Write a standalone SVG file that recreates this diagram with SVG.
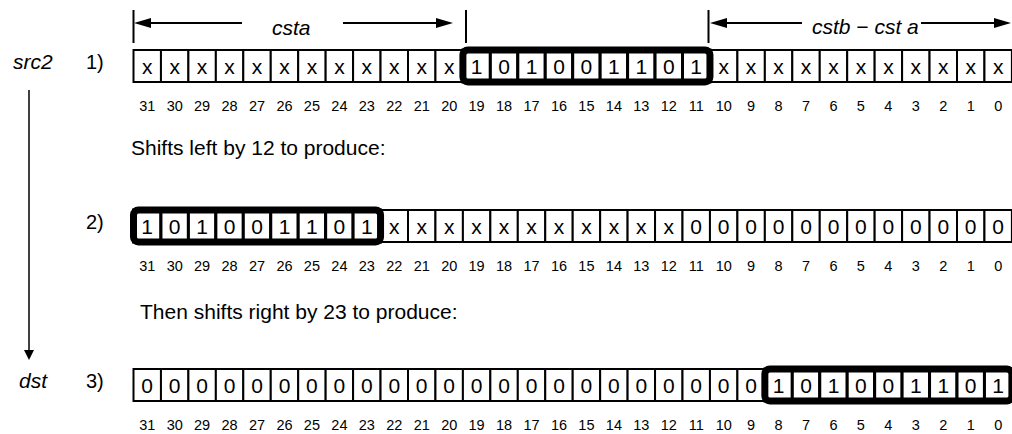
<svg xmlns="http://www.w3.org/2000/svg" width="1012" height="434" viewBox="0 0 1012 434">
<style>
text{font-family:"Liberation Sans",Arial,sans-serif;fill:#000}
.it{font-style:italic;font-size:21px}
.lb{font-size:20px}
.s{font-size:21px}
.v{font-size:21px;text-anchor:middle}
.n{font-size:14.5px;text-anchor:middle}
.c{fill:#fff;stroke:#000;stroke-width:2}
.k{fill:#fff;stroke:#000;stroke-width:3}
.o{fill:none;stroke:#000;stroke-width:7}
.ln{stroke:#000;stroke-width:2;fill:none}
.ah{fill:#000}
</style>
<g id="connectors">
<line class="ln" x1="133.5" y1="10" x2="133.5" y2="43"/>
<line class="ln" x1="466" y1="10" x2="466" y2="43"/>
<line class="ln" x1="708.5" y1="10" x2="708.5" y2="43"/>
<line class="ln" x1="140" y1="23" x2="242" y2="23"/>
<polygon class="ah" points="134,23 151,18 151,28"/>
<line class="ln" x1="343" y1="23" x2="446" y2="23"/>
<polygon class="ah" points="453,23 436,18 436,28"/>
<line class="ln" x1="716" y1="23" x2="802" y2="23"/>
<polygon class="ah" points="710,23 727,18 727,28"/>
<line class="ln" x1="921" y1="23" x2="1004" y2="23"/>
<polygon class="ah" points="1011,23 994,18 994,28"/>
<line class="ln" x1="29" y1="90" x2="29" y2="352" style="stroke-width:1.5"/>
<polygon class="ah" points="29,360 24,350 34,350"/>
</g>
<g id="labels">
<text class="it" x="272" y="35">csta</text>
<text class="it" x="812" y="34">cstb − cst a</text>
<text class="it" x="13" y="69">src2</text>
<text class="it" x="19" y="388">dst</text>
<text class="lb" x="86" y="69">1)</text>
<text class="lb" x="86" y="229">2)</text>
<text class="lb" x="86" y="388">3)</text>
<text class="s" x="131" y="155">Shifts left by 12 to produce:</text>
<text class="s" x="140" y="319">Then shifts right by 23 to produce:</text>
</g>
<g id="row1" transform="translate(0,50)">
<rect class="c" x="133.5" y="0" width="27.45" height="32"/><rect class="c" x="160.95" y="0" width="27.45" height="32"/><rect class="c" x="188.4" y="0" width="27.45" height="32"/><rect class="c" x="215.85" y="0" width="27.45" height="32"/><rect class="c" x="243.3" y="0" width="27.45" height="32"/><rect class="c" x="270.75" y="0" width="27.45" height="32"/><rect class="c" x="298.2" y="0" width="27.45" height="32"/><rect class="c" x="325.65" y="0" width="27.45" height="32"/><rect class="c" x="353.1" y="0" width="27.45" height="32"/><rect class="c" x="380.55" y="0" width="27.45" height="32"/><rect class="c" x="408" y="0" width="27.45" height="32"/><rect class="c" x="435.45" y="0" width="27.45" height="32"/>
<rect class="c" x="709.95" y="0" width="27.45" height="32"/><rect class="c" x="737.4" y="0" width="27.45" height="32"/><rect class="c" x="764.85" y="0" width="27.45" height="32"/><rect class="c" x="792.3" y="0" width="27.45" height="32"/><rect class="c" x="819.75" y="0" width="27.45" height="32"/><rect class="c" x="847.2" y="0" width="27.45" height="32"/><rect class="c" x="874.65" y="0" width="27.45" height="32"/><rect class="c" x="902.1" y="0" width="27.45" height="32"/><rect class="c" x="929.55" y="0" width="27.45" height="32"/><rect class="c" x="957" y="0" width="27.45" height="32"/><rect class="c" x="984.45" y="0" width="27.45" height="32"/>
<rect class="k" x="462.9" y="0" width="27.45" height="32"/><rect class="k" x="490.35" y="0" width="27.45" height="32"/><rect class="k" x="517.8" y="0" width="27.45" height="32"/><rect class="k" x="545.25" y="0" width="27.45" height="32"/><rect class="k" x="572.7" y="0" width="27.45" height="32"/><rect class="k" x="600.15" y="0" width="27.45" height="32"/><rect class="k" x="627.6" y="0" width="27.45" height="32"/><rect class="k" x="655.05" y="0" width="27.45" height="32"/><rect class="k" x="682.5" y="0" width="27.45" height="32"/>
<rect class="o" x="462.9" y="0" width="247.05" height="32" rx="5"/>
<text class="v" x="147.2" y="24">x</text><text class="v" x="174.7" y="24">x</text><text class="v" x="202.1" y="24">x</text><text class="v" x="229.6" y="24">x</text><text class="v" x="257" y="24">x</text><text class="v" x="284.5" y="24">x</text><text class="v" x="311.9" y="24">x</text><text class="v" x="339.4" y="24">x</text><text class="v" x="366.8" y="24">x</text><text class="v" x="394.3" y="24">x</text><text class="v" x="421.7" y="24">x</text><text class="v" x="449.2" y="24">x</text>
<text class="v" x="476.6" y="24">1</text><text class="v" x="504.1" y="24">0</text><text class="v" x="531.5" y="24">1</text><text class="v" x="559" y="24">0</text><text class="v" x="586.4" y="24">0</text><text class="v" x="613.9" y="24">1</text><text class="v" x="641.3" y="24">1</text><text class="v" x="668.8" y="24">0</text><text class="v" x="696.2" y="24">1</text>
<text class="v" x="723.7" y="24">x</text><text class="v" x="751.1" y="24">x</text><text class="v" x="778.6" y="24">x</text><text class="v" x="806" y="24">x</text><text class="v" x="833.5" y="24">x</text><text class="v" x="860.9" y="24">x</text><text class="v" x="888.4" y="24">x</text><text class="v" x="915.8" y="24">x</text><text class="v" x="943.3" y="24">x</text><text class="v" x="970.7" y="24">x</text><text class="v" x="998.2" y="24">x</text>
<g id="nums1" transform="translate(0,61)">
<text class="n" x="147.2">31</text><text class="n" x="174.7">30</text><text class="n" x="202.1">29</text><text class="n" x="229.6">28</text><text class="n" x="257">27</text><text class="n" x="284.5">26</text><text class="n" x="311.9">25</text><text class="n" x="339.4">24</text><text class="n" x="366.8">23</text><text class="n" x="394.3">22</text><text class="n" x="421.7">21</text><text class="n" x="449.2">20</text><text class="n" x="476.6">19</text><text class="n" x="504.1">18</text><text class="n" x="531.5">17</text><text class="n" x="559">16</text><text class="n" x="586.4">15</text><text class="n" x="613.9">14</text><text class="n" x="641.3">13</text><text class="n" x="668.8">12</text><text class="n" x="696.2">11</text><text class="n" x="723.7">10</text><text class="n" x="751.1">9</text><text class="n" x="778.6">8</text><text class="n" x="806">7</text><text class="n" x="833.5">6</text><text class="n" x="860.9">5</text><text class="n" x="888.4">4</text><text class="n" x="915.8">3</text><text class="n" x="943.3">2</text><text class="n" x="970.7">1</text><text class="n" x="998.2">0</text>
</g>
</g>
<g id="row2" transform="translate(0,210)">
<rect class="c" x="380.55" y="0" width="27.45" height="32"/><rect class="c" x="408" y="0" width="27.45" height="32"/><rect class="c" x="435.45" y="0" width="27.45" height="32"/><rect class="c" x="462.9" y="0" width="27.45" height="32"/><rect class="c" x="490.35" y="0" width="27.45" height="32"/><rect class="c" x="517.8" y="0" width="27.45" height="32"/><rect class="c" x="545.25" y="0" width="27.45" height="32"/><rect class="c" x="572.7" y="0" width="27.45" height="32"/><rect class="c" x="600.15" y="0" width="27.45" height="32"/><rect class="c" x="627.6" y="0" width="27.45" height="32"/><rect class="c" x="655.05" y="0" width="27.45" height="32"/><rect class="c" x="682.5" y="0" width="27.45" height="32"/><rect class="c" x="709.95" y="0" width="27.45" height="32"/><rect class="c" x="737.4" y="0" width="27.45" height="32"/><rect class="c" x="764.85" y="0" width="27.45" height="32"/><rect class="c" x="792.3" y="0" width="27.45" height="32"/><rect class="c" x="819.75" y="0" width="27.45" height="32"/><rect class="c" x="847.2" y="0" width="27.45" height="32"/><rect class="c" x="874.65" y="0" width="27.45" height="32"/><rect class="c" x="902.1" y="0" width="27.45" height="32"/><rect class="c" x="929.55" y="0" width="27.45" height="32"/><rect class="c" x="957" y="0" width="27.45" height="32"/><rect class="c" x="984.45" y="0" width="27.45" height="32"/>
<rect class="k" x="133.5" y="0" width="27.45" height="32"/><rect class="k" x="160.95" y="0" width="27.45" height="32"/><rect class="k" x="188.4" y="0" width="27.45" height="32"/><rect class="k" x="215.85" y="0" width="27.45" height="32"/><rect class="k" x="243.3" y="0" width="27.45" height="32"/><rect class="k" x="270.75" y="0" width="27.45" height="32"/><rect class="k" x="298.2" y="0" width="27.45" height="32"/><rect class="k" x="325.65" y="0" width="27.45" height="32"/><rect class="k" x="353.1" y="0" width="27.45" height="32"/>
<rect class="o" x="133.5" y="0" width="247.05" height="32" rx="5"/>
<text class="v" x="147.2" y="24">1</text><text class="v" x="174.7" y="24">0</text><text class="v" x="202.1" y="24">1</text><text class="v" x="229.6" y="24">0</text><text class="v" x="257" y="24">0</text><text class="v" x="284.5" y="24">1</text><text class="v" x="311.9" y="24">1</text><text class="v" x="339.4" y="24">0</text><text class="v" x="366.8" y="24">1</text>
<text class="v" x="394.3" y="24">x</text><text class="v" x="421.7" y="24">x</text><text class="v" x="449.2" y="24">x</text><text class="v" x="476.6" y="24">x</text><text class="v" x="504.1" y="24">x</text><text class="v" x="531.5" y="24">x</text><text class="v" x="559" y="24">x</text><text class="v" x="586.4" y="24">x</text><text class="v" x="613.9" y="24">x</text><text class="v" x="641.3" y="24">x</text><text class="v" x="668.8" y="24">x</text>
<text class="v" x="696.2" y="24">0</text><text class="v" x="723.7" y="24">0</text><text class="v" x="751.1" y="24">0</text><text class="v" x="778.6" y="24">0</text><text class="v" x="806" y="24">0</text><text class="v" x="833.5" y="24">0</text><text class="v" x="860.9" y="24">0</text><text class="v" x="888.4" y="24">0</text><text class="v" x="915.8" y="24">0</text><text class="v" x="943.3" y="24">0</text><text class="v" x="970.7" y="24">0</text><text class="v" x="998.2" y="24">0</text>
<g id="nums2" transform="translate(0,61)">
<text class="n" x="147.2">31</text><text class="n" x="174.7">30</text><text class="n" x="202.1">29</text><text class="n" x="229.6">28</text><text class="n" x="257">27</text><text class="n" x="284.5">26</text><text class="n" x="311.9">25</text><text class="n" x="339.4">24</text><text class="n" x="366.8">23</text><text class="n" x="394.3">22</text><text class="n" x="421.7">21</text><text class="n" x="449.2">20</text><text class="n" x="476.6">19</text><text class="n" x="504.1">18</text><text class="n" x="531.5">17</text><text class="n" x="559">16</text><text class="n" x="586.4">15</text><text class="n" x="613.9">14</text><text class="n" x="641.3">13</text><text class="n" x="668.8">12</text><text class="n" x="696.2">11</text><text class="n" x="723.7">10</text><text class="n" x="751.1">9</text><text class="n" x="778.6">8</text><text class="n" x="806">7</text><text class="n" x="833.5">6</text><text class="n" x="860.9">5</text><text class="n" x="888.4">4</text><text class="n" x="915.8">3</text><text class="n" x="943.3">2</text><text class="n" x="970.7">1</text><text class="n" x="998.2">0</text>
</g>
</g>
<g id="row3" transform="translate(0,369)">
<rect class="c" x="133.5" y="0" width="27.45" height="32"/><rect class="c" x="160.95" y="0" width="27.45" height="32"/><rect class="c" x="188.4" y="0" width="27.45" height="32"/><rect class="c" x="215.85" y="0" width="27.45" height="32"/><rect class="c" x="243.3" y="0" width="27.45" height="32"/><rect class="c" x="270.75" y="0" width="27.45" height="32"/><rect class="c" x="298.2" y="0" width="27.45" height="32"/><rect class="c" x="325.65" y="0" width="27.45" height="32"/><rect class="c" x="353.1" y="0" width="27.45" height="32"/><rect class="c" x="380.55" y="0" width="27.45" height="32"/><rect class="c" x="408" y="0" width="27.45" height="32"/><rect class="c" x="435.45" y="0" width="27.45" height="32"/><rect class="c" x="462.9" y="0" width="27.45" height="32"/><rect class="c" x="490.35" y="0" width="27.45" height="32"/><rect class="c" x="517.8" y="0" width="27.45" height="32"/><rect class="c" x="545.25" y="0" width="27.45" height="32"/><rect class="c" x="572.7" y="0" width="27.45" height="32"/><rect class="c" x="600.15" y="0" width="27.45" height="32"/><rect class="c" x="627.6" y="0" width="27.45" height="32"/><rect class="c" x="655.05" y="0" width="27.45" height="32"/><rect class="c" x="682.5" y="0" width="27.45" height="32"/><rect class="c" x="709.95" y="0" width="27.45" height="32"/><rect class="c" x="737.4" y="0" width="27.45" height="32"/>
<rect class="k" x="764.85" y="0" width="27.45" height="32"/><rect class="k" x="792.3" y="0" width="27.45" height="32"/><rect class="k" x="819.75" y="0" width="27.45" height="32"/><rect class="k" x="847.2" y="0" width="27.45" height="32"/><rect class="k" x="874.65" y="0" width="27.45" height="32"/><rect class="k" x="902.1" y="0" width="27.45" height="32"/><rect class="k" x="929.55" y="0" width="27.45" height="32"/><rect class="k" x="957" y="0" width="27.45" height="32"/><rect class="k" x="984.45" y="0" width="27.45" height="32"/>
<rect class="o" x="764.85" y="0" width="247.05" height="32" rx="5"/>
<text class="v" x="147.2" y="24">0</text><text class="v" x="174.7" y="24">0</text><text class="v" x="202.1" y="24">0</text><text class="v" x="229.6" y="24">0</text><text class="v" x="257" y="24">0</text><text class="v" x="284.5" y="24">0</text><text class="v" x="311.9" y="24">0</text><text class="v" x="339.4" y="24">0</text><text class="v" x="366.8" y="24">0</text><text class="v" x="394.3" y="24">0</text><text class="v" x="421.7" y="24">0</text><text class="v" x="449.2" y="24">0</text><text class="v" x="476.6" y="24">0</text><text class="v" x="504.1" y="24">0</text><text class="v" x="531.5" y="24">0</text><text class="v" x="559" y="24">0</text><text class="v" x="586.4" y="24">0</text><text class="v" x="613.9" y="24">0</text><text class="v" x="641.3" y="24">0</text><text class="v" x="668.8" y="24">0</text><text class="v" x="696.2" y="24">0</text><text class="v" x="723.7" y="24">0</text><text class="v" x="751.1" y="24">0</text>
<text class="v" x="778.6" y="24">1</text><text class="v" x="806" y="24">0</text><text class="v" x="833.5" y="24">1</text><text class="v" x="860.9" y="24">0</text><text class="v" x="888.4" y="24">0</text><text class="v" x="915.8" y="24">1</text><text class="v" x="943.3" y="24">1</text><text class="v" x="970.7" y="24">0</text><text class="v" x="998.2" y="24">1</text>
<g id="nums3" transform="translate(0,61)">
<text class="n" x="147.2">31</text><text class="n" x="174.7">30</text><text class="n" x="202.1">29</text><text class="n" x="229.6">28</text><text class="n" x="257">27</text><text class="n" x="284.5">26</text><text class="n" x="311.9">25</text><text class="n" x="339.4">24</text><text class="n" x="366.8">23</text><text class="n" x="394.3">22</text><text class="n" x="421.7">21</text><text class="n" x="449.2">20</text><text class="n" x="476.6">19</text><text class="n" x="504.1">18</text><text class="n" x="531.5">17</text><text class="n" x="559">16</text><text class="n" x="586.4">15</text><text class="n" x="613.9">14</text><text class="n" x="641.3">13</text><text class="n" x="668.8">12</text><text class="n" x="696.2">11</text><text class="n" x="723.7">10</text><text class="n" x="751.1">9</text><text class="n" x="778.6">8</text><text class="n" x="806">7</text><text class="n" x="833.5">6</text><text class="n" x="860.9">5</text><text class="n" x="888.4">4</text><text class="n" x="915.8">3</text><text class="n" x="943.3">2</text><text class="n" x="970.7">1</text><text class="n" x="998.2">0</text>
</g>
</g>
</svg>
